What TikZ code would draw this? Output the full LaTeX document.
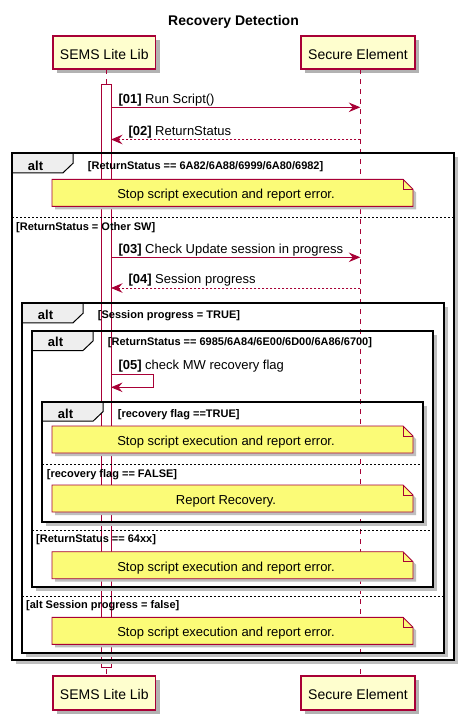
\documentclass[tikz,border=0pt]{standalone}
\usepackage{fontspec}
\setmainfont{Liberation Sans}
\usetikzlibrary{arrows.meta}
\definecolor{pumlred}{HTML}{A80036}
\definecolor{partfill}{HTML}{FEFECE}
\definecolor{notefill}{HTML}{FBFB77}
\definecolor{tabfill}{HTML}{EEEEEE}
\tikzset{
  part/.style={draw=pumlred, fill=partfill, line width=1.2pt, minimum height=33pt, inner sep=0pt,
    text height=13.6pt, text depth=0pt, font=\fontsize{14}{16}\selectfont},
  partshadow/.style={fill=black!30},
  lifeline/.style={draw=pumlred, line width=0.8pt, dash pattern=on 5pt off 5pt},
  actbar/.style={draw=pumlred, fill=white, line width=0.9pt},
  msg/.style={draw=pumlred, line width=0.9pt, -{Stealth[length=11.5pt,width=9.5pt,inset=4pt]}},
  retmsg/.style={msg, dash pattern=on 2pt off 2pt},
  msglbl/.style={font=\fontsize{13}{15}\selectfont, inner sep=0pt, anchor=base west},
  framestyle/.style={draw=black, line width=2pt},
  frameshadow/.style={draw=black!25, line width=3pt},
  tabstyle/.style={draw=black, fill=tabfill, line width=1pt},
  altlbl/.style={font=\bfseries\fontsize{13}{15}\selectfont, inner sep=0pt, anchor=base},
  framelbl/.style={font=\bfseries\fontsize{11}{13}\selectfont, inner sep=0pt, anchor=base west},
  sepline/.style={draw=black, line width=0.8pt, dash pattern=on 2pt off 2pt},
  notestyle/.style={draw=pumlred, fill=notefill, line width=0.9pt},
  notefold/.style={draw=pumlred, line width=0.9pt},
  noteshadow/.style={fill=black!25},
  notetext/.style={font=\fontsize{13}{15}\selectfont, inner sep=0pt, anchor=base},
}
\newcommand\AltFrame[7]{% x1,y1,x2,y2,label,label baseline,name
  \draw[frameshadow] (#3+2.5,#2+4) -- (#3+2.5,#4+2.5) -- (#1+4,#4+2.5);
  \draw[tabstyle] (#1,#2) -- (#1+61,#2) -- (#1+61,#2+10) -- (#1+51,#2+19.5) -- (#1,#2+19.5) -- cycle;
  \draw[framestyle] (#1,#2) rectangle (#3,#4);
  \node[altlbl] (#7alt) at (#1+23.5,#6+1.5) {alt};
  \node[framelbl] (#7lbl) at (#1+75.7,#6) {#5};
}
\newcommand\SepLine[6]{% x1,x2,y,label,label x,name
  \draw[sepline] (#1,#3) -- (#2,#3);
  \node[framelbl] (#6) at (#5,#3+12.8) {#4};
}
\newcommand\NoteBox[3]{% y1,text,name
  \fill[noteshadow] (55,#1+3) -- (406,#1+3) -- (416,#1+13) -- (416,#1+30) -- (55,#1+30) -- cycle;
  \filldraw[notestyle] (52,#1) -- (403,#1) -- (413,#1+10) -- (413,#1+27) -- (52,#1+27) -- cycle;
  \draw[notefold] (403,#1) -- (403,#1+10) -- (413,#1+10);
  \node[notetext] (#3) at (226,#1+19.6) {#2};
}
\begin{document}
\begin{tikzpicture}[x=1pt,y=-1pt]
\fill[white] (0,0) rectangle (464,720);
\useasboundingbox (0,0) rectangle (464,720);

% title
\node[font=\bfseries\fontsize{14}{16}\selectfont, inner sep=0pt, anchor=base] (title) at (233.5,25.7) {Recovery Detection};

% participants
\fill[partshadow] (57,40) rectangle (159.7,73);
\fill[partshadow] (305,40) rectangle (419,73);
\fill[partshadow] (57,680) rectangle (159.7,714);
\fill[partshadow] (305,680) rectangle (419,714);
\node[part, minimum width=102.7pt] (libtop) at (104.3,52.5) {SEMS Lite Lib};
\node[part, minimum width=114pt] (setop) at (358,52.5) {Secure Element};
\node[part, minimum width=102.7pt, minimum height=34pt] (libbot) at (104.3,693) {SEMS Lite Lib};
\node[part, minimum width=114pt, minimum height=34pt] (sebot) at (358,693) {Secure Element};

% lifelines
\coordinate (libL1) at (106.3,69);
\coordinate (libL2) at (106.3,676);
\coordinate (seL1) at (360.3,69);
\coordinate (seL2) at (360.3,676);
\draw[lifeline] (libL1) -- (libL2);
\draw[lifeline] (seL1) -- (seL2);

% activation bar
\draw[actbar] (101.7,84) rectangle (111,667);

% frames
\AltFrame{12}{153.3}{454}{660}{[ReturnStatus == 6A82/6A88/6999/6A80/6982]}{169}{fA}
\SepLine{12}{454}{217.3}{[ReturnStatus = Other SW]}{16}{sA}
\AltFrame{22}{303.3}{444}{653}{[Session progress = TRUE]}{318.3}{fB}
\SepLine{22}{444}{596}{[alt Session progress = false]}{26}{sB}
\AltFrame{32}{331}{433}{587.3}{[ReturnStatus == 6985/6A84/6E00/6D00/6A86/6700]}{345}{fC}
\SepLine{32}{433}{530}{[ReturnStatus == 64xx]}{36}{sC}
\AltFrame{42}{401.7}{423}{522.3}{[recovery flag ==TRUE]}{417}{fD}
\SepLine{42}{423}{464.3}{[recovery flag == FALSE]}{46.7}{sD}

% messages
\coordinate (m1a) at (111,107.3);  \coordinate (m1b) at (360.3,107.3);
\coordinate (m2a) at (360.3,139.5); \coordinate (m2b) at (111,139.5);
\coordinate (m3a) at (111,257.3);  \coordinate (m3b) at (360.3,257.3);
\coordinate (m4a) at (360.3,288);   \coordinate (m4b) at (111,288);
\coordinate (m5a) at (111,374.3);  \coordinate (m5b) at (111,387.3);
\draw[msg] (m1a) -- (m1b);
\node[msglbl] (l1) at (118.3,103) {\textbf{[01]} Run Script()};
\draw[retmsg] (m2a) -- (m2b);
\node[msglbl] (l2) at (128.3,135) {\textbf{[02]} ReturnStatus};
\draw[msg] (m3a) -- (m3b);
\node[msglbl] (l3) at (118.3,253) {\textbf{[03]} Check Update session in progress};
\draw[retmsg] (m4a) -- (m4b);
\node[msglbl] (l4) at (128.3,283.5) {\textbf{[04]} Session progress};
\draw[msg] (m5a) -- (153.3,374.3) -- (153.3,387.3) -- (m5b);
\node[msglbl] (l5) at (118.3,369.5) {\textbf{[05]} check MW recovery flag};

% notes
\NoteBox{179.3}{Stop script execution and report error.}{n1}
\NoteBox{426}{Stop script execution and report error.}{n2}
\NoteBox{485}{Report Recovery.}{n3}
\NoteBox{551.7}{Stop script execution and report error.}{n4}
\NoteBox{617.3}{Stop script execution and report error.}{n5}
\end{tikzpicture}
\end{document}
